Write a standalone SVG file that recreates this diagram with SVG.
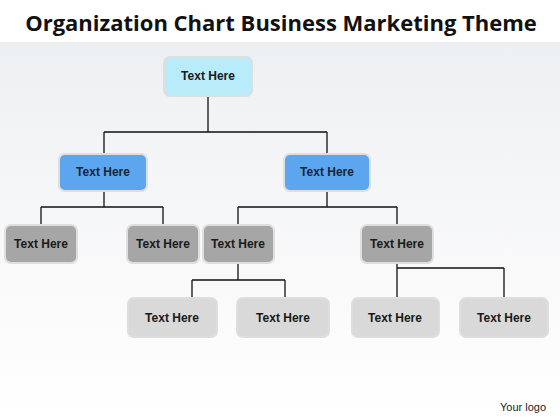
<svg xmlns="http://www.w3.org/2000/svg" width="560" height="420" viewBox="0 0 560 420">
<defs>
<linearGradient id="bg" x1="0" y1="0" x2="0" y2="1">
<stop offset="0" stop-color="#edf0f2"/>
<stop offset="0.6" stop-color="#f9f9fa"/>
<stop offset="1" stop-color="#ffffff"/>
</linearGradient>
<style>
.n rect{stroke:#dedede;stroke-width:2}
.n text{font-family:"Liberation Sans",Arial,sans-serif;font-weight:bold;font-size:12px;text-anchor:middle;fill:#1a1a1a}
.c0 rect{fill:#b9ecfb}
.c1 rect{fill:#5ba6ee}
.c1 text{fill:#18243a}
.c2 rect{fill:#a6a6a6}
.c3 rect{fill:#d9d9d9}
#connectors path{fill:none;stroke:#111;stroke-width:1.3}
</style>
</defs>
<rect x="0" y="0" width="560" height="420" fill="#ffffff"/>
<rect x="0" y="42" width="560" height="378" fill="url(#bg)"/>
<text x="281" y="31" font-family="'Open Sans','Liberation Sans',sans-serif" font-weight="bold" font-size="22" text-anchor="middle" fill="#111">Organization Chart Business Marketing Theme</text>
<g id="connectors">
<path d="M208 96V132M104 132H327M104 132V154M327 132V154"/>
<path d="M104 191V207M41 207H163M41 207V225M163 207V225"/>
<path d="M327 191V207M238 207H397M238 207V225M397 207V225"/>
<path d="M238 263V280M192 280H285M192 280V298M285 280V298"/>
<path d="M397 263V298M397 268H504M504 268V298"/>
</g>
<g id="n1" class="n c0"><rect x="164" y="57" width="88" height="39" rx="6"/><text x="208" y="80">Text Here</text></g>
<g id="n2" class="n c1"><rect x="59" y="154" width="88" height="37" rx="6"/><text x="103" y="176">Text Here</text></g>
<g id="n3" class="n c1"><rect x="284" y="154" width="86" height="37" rx="6"/><text x="327" y="176">Text Here</text></g>
<g id="n4" class="n c2"><rect x="5" y="225" width="72" height="38" rx="6"/><text x="41" y="248">Text Here</text></g>
<g id="n5" class="n c2"><rect x="127" y="225" width="72" height="38" rx="6"/><text x="163" y="248">Text Here</text></g>
<g id="n6" class="n c2"><rect x="203" y="225" width="71" height="38" rx="6"/><text x="238" y="248">Text Here</text></g>
<g id="n7" class="n c2"><rect x="361" y="225" width="72" height="38" rx="6"/><text x="397" y="248">Text Here</text></g>
<g id="n8" class="n c3"><rect x="128" y="298" width="89" height="39" rx="6"/><text x="172" y="322">Text Here</text></g>
<g id="n9" class="n c3"><rect x="237" y="298" width="92" height="39" rx="6"/><text x="283" y="322">Text Here</text></g>
<g id="n10" class="n c3"><rect x="352" y="298" width="87" height="39" rx="6"/><text x="395" y="322">Text Here</text></g>
<g id="n11" class="n c3"><rect x="460" y="298" width="88" height="39" rx="6"/><text x="504" y="322">Text Here</text></g>
<text x="523" y="411" font-family="'Liberation Sans',Arial,sans-serif" font-size="11" text-anchor="middle" fill="#222">Your  logo</text>
</svg>
